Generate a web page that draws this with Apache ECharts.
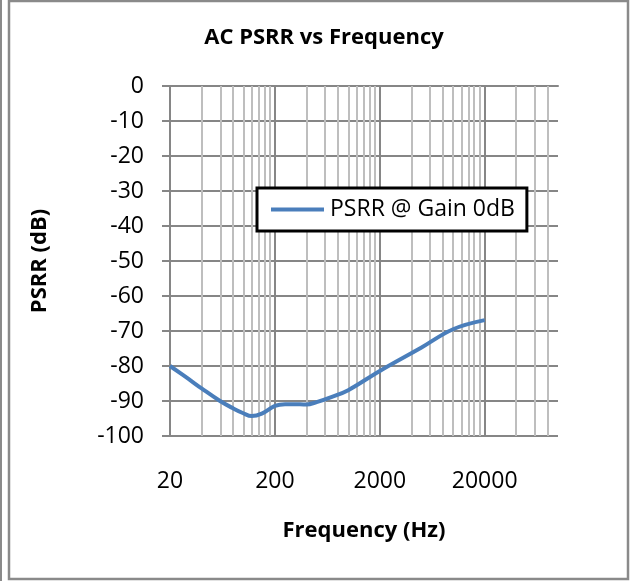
<!DOCTYPE html>
<html>
<head>
<meta charset="utf-8">
<script src="https://cdn.jsdelivr.net/npm/echarts@6/dist/echarts.min.js"></script>
<style>html,body{margin:0;padding:0;background:#fff}#c{width:631px;height:581px}</style>
</head>
<body>
<div id="c"></div>
<script>
// Data (frequency in Hz, PSRR in dB)
const freqHz = [20, 30, 40, 60, 80, 100, 120, 150, 200, 250, 300, 400, 500, 700, 1000, 2000, 5000, 10000, 20000];
const psrrDb = [-80, -83.7, -86.4, -90, -92.1, -93.5, -94.3, -93.6, -91.4, -90.9, -90.9, -91.0, -90.3, -88.8, -86.9, -81.4, -74.7, -69.5, -66.9];
const seriesName = 'PSRR @ Gain 0dB';
const xTickFreqs = [20, 200, 2000, 20000];
const xTickLabels = ['20', '200', '2000', '20000'];
const xMinHz = 20, xMaxHz = 100000;
const yMin = -100, yMax = 0, yStep = 10;

const FONT = '"Open Sans", "Noto Sans", sans-serif';
const toX = f => Math.log10(f / xMinHz);

const majorVals = xTickFreqs.map(toX);
const minorVals = [];
for (let d = 0; xMinHz * Math.pow(10, d) < xMaxHz; d++) {
  for (let k = 2; k <= 9; k++) {
    const f = xMinHz * Math.pow(10, d) * k;
    if (f <= xMaxHz) minorVals.push(toX(f));
  }
}

const chart = echarts.init(document.getElementById('c'), null, {renderer: 'canvas'});
chart.setOption({
  animation: false,
  backgroundColor: '#fff',
  title: {
    text: 'AC PSRR vs Frequency',
    left: 319, top: 22, textAlign: 'center',
    textStyle: {fontFamily: FONT, fontWeight: 'bold', fontSize: 22, color: '#000'}
  },
  grid: {left: 170, right: 73, top: 86, bottom: 145},
  legend: {
    data: [seriesName],
    left: 257, top: 188, z: 20,
    orient: 'horizontal',
    backgroundColor: '#fff',
    borderColor: '#000', borderWidth: 3,
    padding: [10, 12, 10, 14],
    itemWidth: 53, itemHeight: 4, itemGap: 4,
    icon: 'rect',
    textStyle: {fontFamily: FONT, fontSize: 23, color: '#000', padding: [0, 0, 0, 1]}
  },
  xAxis: {
    type: 'value',
    min: toX(xMinHz), max: toX(xMaxHz), interval: 1,
    name: 'Frequency (Hz)', nameLocation: 'middle', nameGap: 84,
    nameTextStyle: {fontFamily: FONT, fontWeight: 'bold', fontSize: 22, color: '#000'},
    axisLine: {show: true, lineStyle: {color: '#868686', width: 2}},
    axisTick: {show: true, customValues: majorVals, length: 7, lineStyle: {color: '#868686', width: 2}},
    axisLabel: {
      customValues: majorVals, margin: 34,
      fontFamily: FONT, fontSize: 23, color: '#000',
      formatter: v => { const i = majorVals.findIndex(m => Math.abs(m - v) < 1e-6); return i >= 0 ? xTickLabels[i] : ''; }
    },
    splitLine: {show: false}
  },
  yAxis: {
    type: 'value',
    min: yMin, max: yMax, interval: yStep,
    name: 'PSRR (dB)', nameLocation: 'middle', nameGap: 119,
    nameTextStyle: {fontFamily: FONT, fontWeight: 'bold', fontSize: 22, color: '#000'},
    axisLine: {show: true, lineStyle: {color: '#868686', width: 2}},
    axisTick: {show: true, inside: false, length: 8, lineStyle: {color: '#868686', width: 2}},
    axisLabel: {margin: 26, fontFamily: FONT, fontSize: 23, color: '#000'},
    splitLine: {show: true, lineStyle: {color: '#868686', width: 2}}
  },
  series: [
    {
      name: 'minorGrid', type: 'line', data: [], silent: true, z: 1, legendHoverLink: false,
      markLine: {
        silent: true, symbol: 'none', label: {show: false}, animation: false,
        lineStyle: {color: '#bebebe', width: 2, type: 'solid'},
        data: minorVals.map(v => ({xAxis: v}))
      }
    },
    {
      name: 'majorGrid', type: 'line', data: [], silent: true, z: 1, legendHoverLink: false,
      markLine: {
        silent: true, symbol: 'none', label: {show: false}, animation: false,
        lineStyle: {color: '#868686', width: 2, type: 'solid'},
        data: majorVals.map(v => ({xAxis: v}))
      }
    },
    {
      name: seriesName, type: 'line', z: 5,
      data: freqHz.map((f, i) => [toX(f), psrrDb[i]]),
      smooth: 0.4, showSymbol: false, symbol: 'none',
      lineStyle: {color: '#4a7ebb', width: 4},
      itemStyle: {color: '#4a7ebb'}
    }
  ],
  graphic: [
    {type: 'rect', shape: {x: 9, y: 1, width: 619, height: 578}, style: {fill: null, stroke: '#8a8a8a', lineWidth: 2.5}, silent: true, z: -1},
    {type: 'line', shape: {x1: 1, y1: 0, x2: 1, y2: 581}, style: {stroke: '#8a8a8a', lineWidth: 2}, silent: true, z: -1}
  ]
});
</script>
</body>
</html>
